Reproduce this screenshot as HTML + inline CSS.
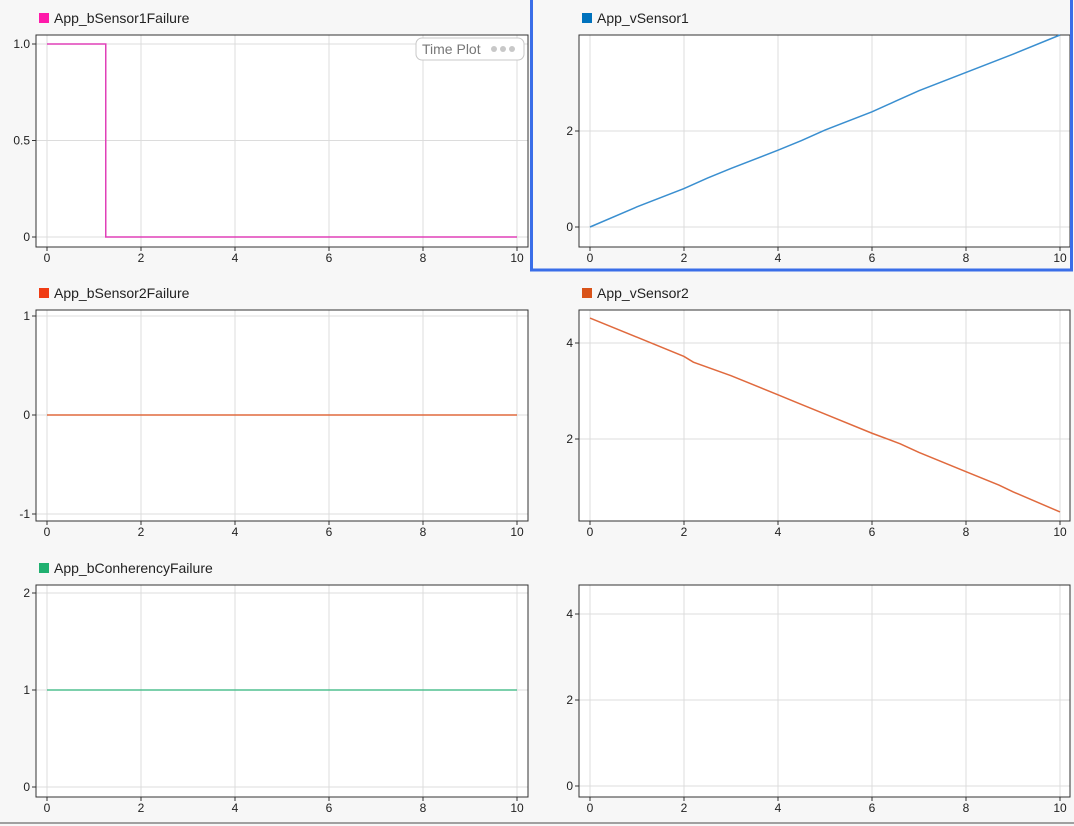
<!DOCTYPE html>
<html><head><meta charset="utf-8">
<style>
html,body{margin:0;padding:0;background:#f7f7f7;}
body{width:1074px;height:826px;overflow:hidden;position:relative;font-family:"Liberation Sans",sans-serif;}
svg{position:absolute;left:0;top:0;}
</style></head>
<body>
<svg id="s" width="1074" height="826"></svg>
<script>
const xTicks=[0,2,4,6,8,10];
const s1Time=[0,1.25,1.25,10];
const s1Vals=[1,1,0,0];
const v1Time=[0,1,2,2.5,3,4,4.5,5,6,6.5,7,8,9,10];
const v1Vals=[0,0.42,0.8,1.02,1.22,1.6,1.8,2.02,2.4,2.62,2.84,3.22,3.6,4.0];
const s2Time=[0,10];
const s2Vals=[0,0];
const v2Time=[0,1,2,2.2,3,4,4.4,5,6,6.6,7,8,8.7,9,10];
const v2Vals=[4.52,4.12,3.72,3.6,3.32,2.92,2.76,2.52,2.12,1.9,1.72,1.32,1.04,0.9,0.48];
const cTime=[0,10];
const cVals=[1,1];
const NS="http://www.w3.org/2000/svg";
const svg=document.getElementById('s');
function el(t,a,p){const e=document.createElementNS(NS,t);for(const k in a)e.setAttribute(k,a[k]);(p||svg).appendChild(e);return e;}
// panels: box, x0 px, x10 px, y mapping (v1,py1,v2,py2)
const panels=[
 {name:'bsensor1',title:'App_bSensor1Failure',color:'#ff1aaa',box:[36,35,528,247],x0:47,x10:517,ym:[0,237,1,44],yt:[0,0.5,1.0],yl:['0','0.5','1.0'],t:s1Time,v:s1Vals,lc:'#e040b8'},
 {name:'vsensor1',title:'App_vSensor1',color:'#0072bd',box:[579,35,1070,247],x0:590,x10:1060,ym:[0,227,2,131],yt:[0,2],yl:['0','2'],t:v1Time,v:v1Vals,lc:'#3a8fd0'},
 {name:'bsensor2',title:'App_bSensor2Failure',color:'#f03c14',box:[36,310,528,521],x0:47,x10:517,ym:[0,415,1,316],yt:[-1,0,1],yl:['-1','0','1'],t:s2Time,v:s2Vals,lc:'#e06a3e'},
 {name:'vsensor2',title:'App_vSensor2',color:'#d95319',box:[579,310,1070,521],x0:590,x10:1060,ym:[0,535,2,439],yt:[2,4],yl:['2','4'],t:v2Time,v:v2Vals,lc:'#e06a3e'},
 {name:'bconherency',title:'App_bConherencyFailure',color:'#20b070',box:[36,585,528,797],x0:47,x10:517,ym:[0,787,1,690],yt:[0,1,2],yl:['0','1','2'],t:cTime,v:cVals,lc:'#50c090'},
 {name:'empty',title:'',color:'',box:[579,585,1070,797],x0:590,x10:1060,ym:[0,786,2,700],yt:[0,2,4],yl:['0','2','4'],t:[],v:[],lc:'#000'}
];
panels.forEach(p=>{
 const g=el('g',{});
 
 
 const [l,t,r,b]=p.box;
 const X=x=>p.x0+(p.x10-p.x0)*x/10;
 const Y=v=>p.ym[1]+(v-p.ym[0])*(p.ym[3]-p.ym[1])/(p.ym[2]-p.ym[0]);
 el('rect',{x:l,y:t,width:r-l,height:b-t,fill:'#fff'},g);
 xTicks.forEach(x=>{el('line',{x1:X(x),x2:X(x),y1:t,y2:b,stroke:'#dcdcdc','stroke-width':1},g);
  el('line',{x1:X(x),x2:X(x),y1:b,y2:b+4,stroke:'#333'},g);
  const tx=el('text',{x:X(x),y:b+15,'font-size':12,'text-anchor':'middle',fill:'#222'},g);tx.textContent=x;
  
  });
 p.yt.forEach((v,i)=>{el('line',{x1:l,x2:r,y1:Y(v),y2:Y(v),stroke:'#dcdcdc'},g);
  el('line',{x1:l-4,x2:l,y1:Y(v),y2:Y(v),stroke:'#333'},g);
  const tx=el('text',{x:l-6,y:Y(v)+4,'font-size':12,'text-anchor':'end',fill:'#222'},g);tx.textContent=p.yl[i];
  
  });
 el('rect',{x:l,y:t,width:r-l,height:b-t,fill:'none',stroke:'#333','stroke-width':1},g);
 if(p.t.length){
  const ln=el('polyline',{points:p.t.map((x,i)=>X(x)+','+Y(p.v[i])).join(' '),fill:'none',stroke:p.lc,'stroke-width':1.5},g);
  
  
 }
 if(p.title){
  const sq=el('rect',{x:l+3,y:t-22,width:10,height:10,fill:p.color},g);
  
  
  const tt=el('text',{x:l+18,y:t-12,'font-size':14,fill:'#222'},g);tt.textContent=p.title;
  
  
 }
});
// selection border
const sel=el('rect',{x:531.5,y:-2,width:540,height:272,fill:'none',stroke:'#3a6ee8','stroke-width':3});


// time plot badge
const bg=el('g',{});


el('rect',{x:416,y:38,width:108,height:22,rx:6,fill:'#fff',stroke:'#c8c8c8'},bg);
const bt=el('text',{x:422,y:54,'font-size':14,fill:'#777'},bg);bt.textContent='Time Plot';
[494,503,512].forEach(cx=>el('circle',{cx:cx,cy:49,r:3,fill:'#c8c8c8'},bg));
// bottom border
const bb=el('line',{x1:0,x2:1074,y1:823,y2:823,stroke:'#a0a0a0','stroke-width':2});


</script>
</body></html>
